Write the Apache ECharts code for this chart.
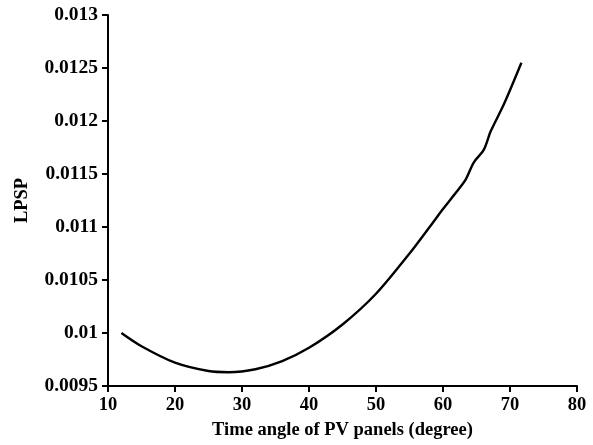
<!DOCTYPE html>
<html>
<head>
<meta charset="utf-8">
<script src="https://cdn.jsdelivr.net/npm/echarts@6/dist/echarts.min.js"></script>
<style>
  html, body { margin: 0; padding: 0; background: #fff; }
  #chart { width: 593px; height: 445px; }
</style>
</head>
<body>
<div id="chart"></div>
<script>
// values
var angles = [12, 15, 20, 25, 28, 32, 36, 40, 45, 50, 55, 58, 60, 62, 63.4, 64.6, 66.1, 67.1, 69.1, 71.7];
var lpsp = [0.0100, 0.009875, 0.00972, 0.009641, 0.00963, 0.009658, 0.009735, 0.00986, 0.01008, 0.01037, 0.01075, 0.0110, 0.01117, 0.01133, 0.01145, 0.01161, 0.01173, 0.01190, 0.01216, 0.01255];
var xTitle = 'Time angle of PV panels (degree)';
var yTitle = 'LPSP';

var chart = echarts.init(document.getElementById('chart'));

var font = { fontFamily: 'Liberation Serif', fontWeight: 'bold', fontSize: 18.5, color: '#000' };
var axisLine = { lineStyle: { color: '#000', width: 2 } };
var axisTick = { length: 6, lineStyle: { color: '#000', width: 2 } };

var option = {
	animation: false,
	grid: { left: 108, right: 16, top: 15, bottom: 57 },
	xAxis: {
		type: 'value',
		min: 10,
		max: 80,
		interval: 10,
		name: xTitle,
		nameLocation: 'middle',
		nameGap: 35,
		nameTextStyle: font,
		axisLine: axisLine,
		axisTick: axisTick,
		axisLabel: Object.assign({ margin: 10 }, font),
		splitLine: { show: false }
	},
	yAxis: {
		type: 'value',
		min: 0.0095,
		max: 0.013,
		interval: 0.0005,
		name: yTitle,
		nameLocation: 'middle',
		nameGap: 76,
		nameRotate: 90,
		nameTextStyle: font,
		axisLine: axisLine,
		axisTick: axisTick,
		axisLabel: Object.assign({}, font, {
			margin: 10,
			fontSize: 19.5,
			formatter: function (v) { return String(parseFloat(v.toFixed(4))); }
		}),
		splitLine: { show: false }
	},
	series: [
		{
			type: 'line',
			data: angles.map(function (a, i) { return [a, lpsp[i]]; }),
			smooth: 0.3,
			showSymbol: false,
			lineStyle: { color: '#000', width: 2.4 }
		}
	]
};

chart.setOption(option);
</script>
</body>
</html>
